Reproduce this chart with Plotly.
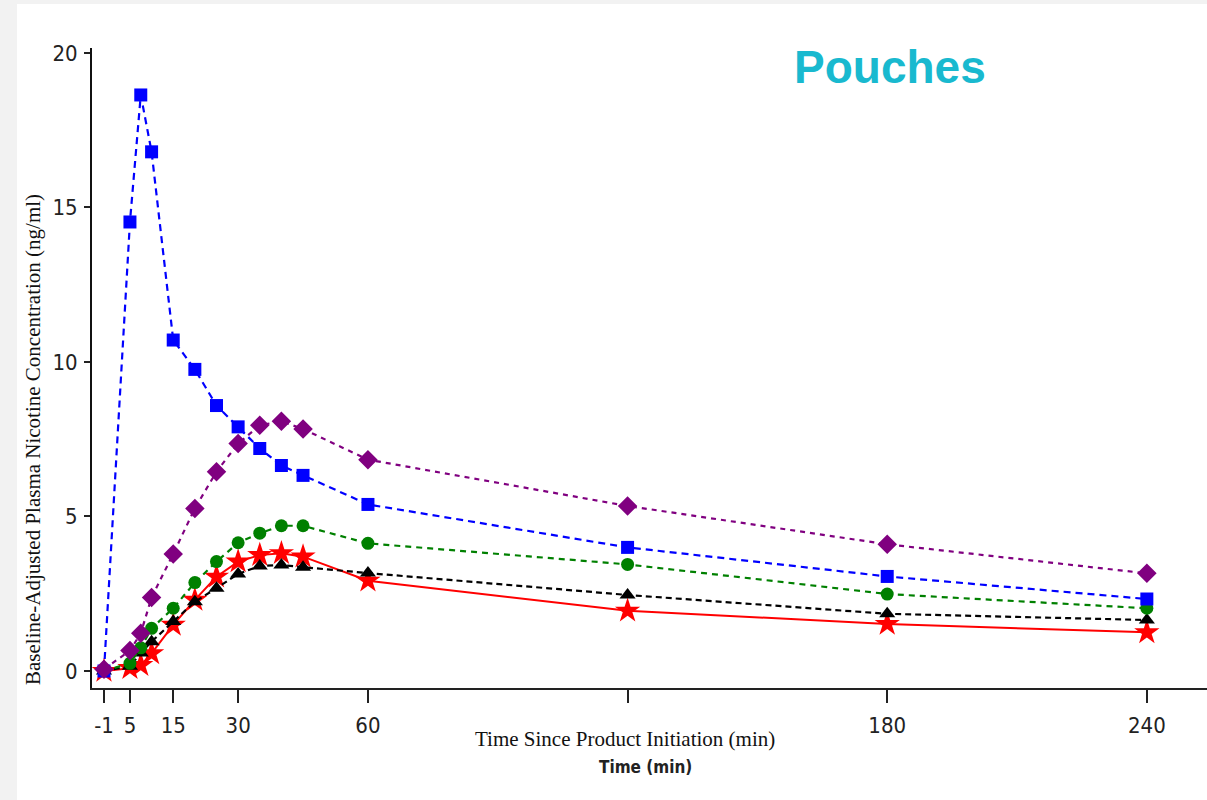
import plotly.graph_objects as go

# ---- data ----
time_min = [-1, 5, 7.5, 10, 15, 20, 25, 30, 35, 40, 45, 60, 120, 180, 240]
series_blue = [0.0, 14.53, 18.64, 16.80, 10.71, 9.76, 8.59, 7.90, 7.20, 6.65, 6.33, 5.39, 4.00, 3.06, 2.33]
series_purple = [0.06, 0.66, 1.22, 2.38, 3.79, 5.26, 6.45, 7.36, 7.95, 8.08, 7.83, 6.84, 5.34, 4.10, 3.16]
series_green = [0.0, 0.25, 0.75, 1.38, 2.03, 2.86, 3.54, 4.15, 4.46, 4.70, 4.70, 4.13, 3.45, 2.49, 2.03]
series_black = [0.0, 0.15, 0.58, 0.95, 1.60, 2.24, 2.68, 3.14, 3.40, 3.43, 3.36, 3.17, 2.46, 1.85, 1.65]
series_red = [0.0, 0.09, 0.19, 0.57, 1.49, 2.30, 3.05, 3.54, 3.75, 3.81, 3.70, 2.92, 1.95, 1.52, 1.25]

x_tickvals = [-1, 5, 15, 30, 60, 120, 180, 240]
x_ticktext = ["-1", "5", "15", "30", "60", "", "180", "240"]
y_tickvals = [0, 5, 10, 15, 20]
y_ticktext = ["0", "5", "10", "15", "20"]

NARROW = "Liberation Sans Narrow, DejaVu Sans Condensed, Arial Narrow, sans-serif"
SERIF = "Liberation Serif, Times New Roman, serif"

fig = go.Figure()

def add(y, color, symbol, size, dash, width=2.2):
    fig.add_trace(go.Scatter(
        x=time_min, y=y, mode="lines+markers",
        line=dict(color=color, width=width, dash=dash),
        marker=dict(symbol=symbol, size=size, color=color, line=dict(width=0)),
        showlegend=False, hoverinfo="x+y",
    ))

add(series_red, "#FF0000", "star", 19, "solid", 2.0)
add(series_black, "#000000", "triangle-up", 14, "6px,4px")
add(series_green, "#008000", "circle", 13, "6px,5px")
add(series_blue, "#0000FF", "square", 13, "7px,5px")
add(series_purple, "#800080", "diamond", 15, "5px,5px")

# plot area: left 92, right 1207, top 48, bottom 688 (pixels)
L, R, T, B = 92, 1207, 48, 688
W, H = R - L, B - T

def px(xp):
    return (xp - L) / W

def py(yp):
    return (B - yp) / H

fig.add_shape(type="rect", xref="paper", yref="paper",
              x0=px(17), x1=px(1207), y0=py(800), y1=py(4),
              fillcolor="white", line=dict(width=0), layer="below")

fig.update_layout(
    width=1207, height=800,
    margin=dict(l=L, r=1207 - R, t=T, b=800 - B),
    paper_bgcolor="#f2f2f2",
    plot_bgcolor="rgba(0,0,0,0)",
    xaxis=dict(
        range=[-3.77, 253.9], tickmode="array", tickvals=x_tickvals, ticktext=x_ticktext,
        showgrid=False, zeroline=False, showline=True, linecolor="#222", linewidth=2,
        ticks="outside", ticklen=13, tickwidth=1.5, tickcolor="#222",
        ticklabelstandoff=4,
        tickfont=dict(family=NARROW, size=22, color="#222"),
    ),
    yaxis=dict(
        range=[-0.55, 20.16], tickmode="array", tickvals=y_tickvals, ticktext=y_ticktext,
        showgrid=False, zeroline=False, showline=True, linecolor="#111", linewidth=2,
        ticks="outside", ticklen=6, tickwidth=1.5, tickcolor="#222",
        ticklabelstandoff=2,
        tickfont=dict(family=NARROW, size=22, color="#222"),
    ),
    annotations=[
        dict(text="Pouches", xref="paper", yref="paper", x=px(890), y=py(67),
             showarrow=False, xanchor="center", yanchor="middle",
             font=dict(family="Liberation Sans, Arial, sans-serif", size=46, color="#19B9CF", weight="bold")),
        dict(text="Time Since Product Initiation (min)", xref="paper", yref="paper",
             x=px(625), y=py(739), showarrow=False, xanchor="center", yanchor="middle",
             font=dict(family=SERIF, size=21, color="#111")),
        dict(text="Time (min)", xref="paper", yref="paper",
             x=px(645), y=py(767), showarrow=False, xanchor="center", yanchor="middle",
             font=dict(family=NARROW, size=17, color="#222", weight="bold")),
        dict(text="Baseline-Adjusted Plasma Nicotine Concentration (ng/ml)", xref="paper", yref="paper",
             x=px(33), y=py(440), showarrow=False, xanchor="center", yanchor="middle", textangle=-90,
             font=dict(family=SERIF, size=21, color="#111")),
    ],
)

fig.write_html("out.html")
